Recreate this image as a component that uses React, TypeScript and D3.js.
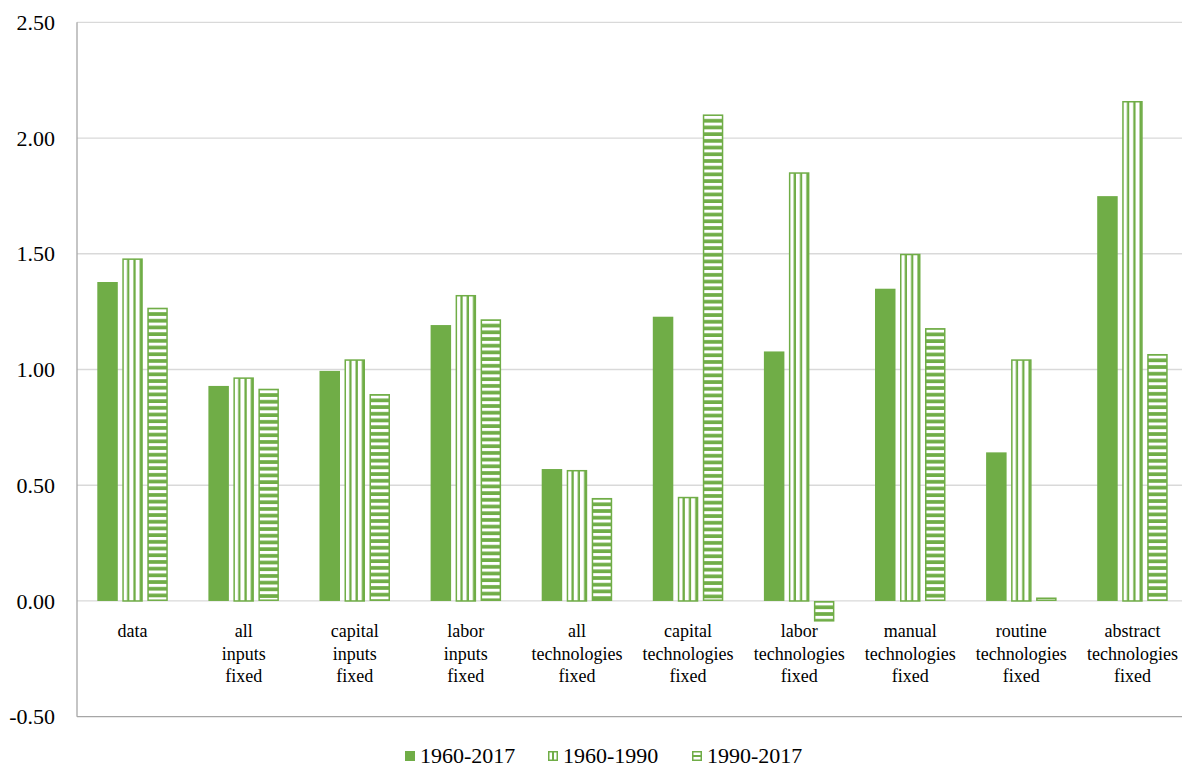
import React from "react";
import * as d3 from "d3";

const categories: string[][] = [
  ["data"],
  ["all", "inputs", "fixed"],
  ["capital", "inputs", "fixed"],
  ["labor", "inputs", "fixed"],
  ["all", "technologies", "fixed"],
  ["capital", "technologies", "fixed"],
  ["labor", "technologies", "fixed"],
  ["manual", "technologies", "fixed"],
  ["routine", "technologies", "fixed"],
  ["abstract", "technologies", "fixed"],
];

const seriesNames = ["1960-2017", "1960-1990", "1990-2017"];

const values1960_2017 = [1.378, 0.929, 0.994, 1.192, 0.570, 1.228, 1.078, 1.349, 0.642, 1.749];
const values1960_1990 = [1.480, 0.966, 1.044, 1.322, 0.566, 0.450, 1.852, 1.500, 1.044, 2.160];
const values1990_2017 = [1.267, 0.917, 0.894, 1.217, 0.445, 2.102, -0.089, 1.179, 0.015, 1.067];

const yTicks = [-0.5, 0, 0.5, 1.0, 1.5, 2.0, 2.5];

const GREEN = "#70AD47";

export default function App() {
  const W = 1182;
  const H = 767;
  const left = 77;
  const right = 1188;
  const top = 22.3;
  const bottom = 716.7;

  const series = [values1960_2017, values1960_1990, values1990_2017];
  const catIdx = categories.map((_, i) => String(i));

  const x0 = d3.scaleBand<string>().domain(catIdx).range([left, right]).padding(0);
  const y = d3.scaleLinear().domain([-0.5, 2.5]).range([bottom, top]);
  const bw = x0.bandwidth();
  const x1 = d3
    .scaleBand<string>()
    .domain(seriesNames)
    .range([bw / 2 - 35.25, bw / 2 + 35.25])
    .paddingInner(0.18)
    .paddingOuter(0);

  const fmt = (t: number) => d3.format(".2f")(t).replace("\u2212", "-");

  const patterns: React.ReactNode[] = [];
  const bars: React.ReactNode[] = [];

  categories.forEach((_, ci) => {
    series.forEach((vals, si) => {
      const v = vals[ci];
      const bx = (x0(String(ci)) as number) + (x1(seriesNames[si]) as number);
      const w = x1.bandwidth();
      const y0 = y(0);
      const yv = y(v);
      const ry = Math.min(y0, yv);
      const rh = Math.abs(y0 - yv);
      const key = `b${ci}_${si}`;
      if (si === 0) {
        bars.push(<rect key={key} x={bx} y={ry} width={w} height={rh} fill={GREEN} />);
      } else if (si === 1) {
        const pid = `pv${ci}`;
        patterns.push(
          <pattern key={pid} id={pid} patternUnits="userSpaceOnUse" x={bx + 0.75} y={0} width={6.3} height={10}>
            <rect x={0} y={0} width={6.3} height={10} fill="#fff" />
            <rect x={4} y={0} width={2.3} height={10} fill={GREEN} />
          </pattern>
        );
        bars.push(
          <rect key={key} x={bx + 0.75} y={ry + 0.75} width={w - 1.5} height={Math.max(0, rh - 0.75)} fill={`url(#${pid})`} stroke={GREEN} strokeWidth={1.5} />
        );
      } else {
        const pid = `ph${ci}`;
        patterns.push(
          <pattern key={pid} id={pid} patternUnits="userSpaceOnUse" x={0} y={ry + 1.5} width={10} height={6.7}>
            <rect x={0} y={0} width={10} height={6.7} fill="#fff" />
            <rect x={0} y={3} width={10} height={3.7} fill={GREEN} />
          </pattern>
        );
        bars.push(
          <rect key={key} x={bx + 0.75} y={ry + 0.75} width={w - 1.5} height={Math.max(0, rh - 1.5)} fill={`url(#${pid})`} stroke={GREEN} strokeWidth={1.5} />
        );
      }
    });
  });

  const legendItems = [
    { name: seriesNames[0], x: 405, kind: 0 },
    { name: seriesNames[1], x: 548, kind: 1 },
    { name: seriesNames[2], x: 692, kind: 2 },
  ];

  return (
    <svg
      width={W}
      height={H}
      style={{ position: "absolute", left: 0, top: 0, display: "block" }}
      fontFamily="'Liberation Serif', 'Times New Roman', serif"
    >
      <defs>{patterns}</defs>
      <rect x={0} y={0} width={W} height={H} fill="#fff" />
      {yTicks.map((t) => (
        <g key={t}>
          {t !== -0.5 && (
            <line x1={left} x2={right} y1={y(t)} y2={y(t)} stroke="#d9d9d9" strokeWidth={1.3} />
          )}
          <text x={55} y={y(t)} dy="0.35em" textAnchor="end" fontSize={22} fill="#000">
            {fmt(t)}
          </text>
        </g>
      ))}
      <line x1={left} x2={right} y1={bottom} y2={bottom} stroke="#a6a6a6" strokeWidth={1.3} />
      <line x1={left} x2={left} y1={top} y2={bottom} stroke="#a6a6a6" strokeWidth={1.3} />
      {bars}
      {categories.map((lines, ci) => {
        const cx = (x0(String(ci)) as number) + bw / 2;
        return (
          <text key={ci} x={cx} y={637} textAnchor="middle" fontSize={18} fill="#000">
            {lines.map((l, li) => (
              <tspan key={li} x={cx} dy={li === 0 ? 0 : 22.5}>
                {l}
              </tspan>
            ))}
          </text>
        );
      })}
      {legendItems.map((it) => (
        <g key={it.name}>
          {it.kind === 0 && <rect x={it.x} y={751} width={10} height={10} fill={GREEN} />}
          {it.kind === 1 && (
            <g>
              <rect x={it.x + 0.75} y={751.75} width={8.5} height={8.5} fill="#fff" stroke={GREEN} strokeWidth={1.5} />
              <rect x={it.x + 4} y={751.75} width={2} height={8.5} fill={GREEN} />
            </g>
          )}
          {it.kind === 2 && (
            <g>
              <rect x={it.x + 0.75} y={751.75} width={8.5} height={8.5} fill="#fff" stroke={GREEN} strokeWidth={1.5} />
              <rect x={it.x + 0.75} y={755} width={8.5} height={2} fill={GREEN} />
            </g>
          )}
          <text x={it.x + 15} y={762.5} fontSize={22} fill="#000">
            {it.name}
          </text>
        </g>
      ))}
    </svg>
  );
}
